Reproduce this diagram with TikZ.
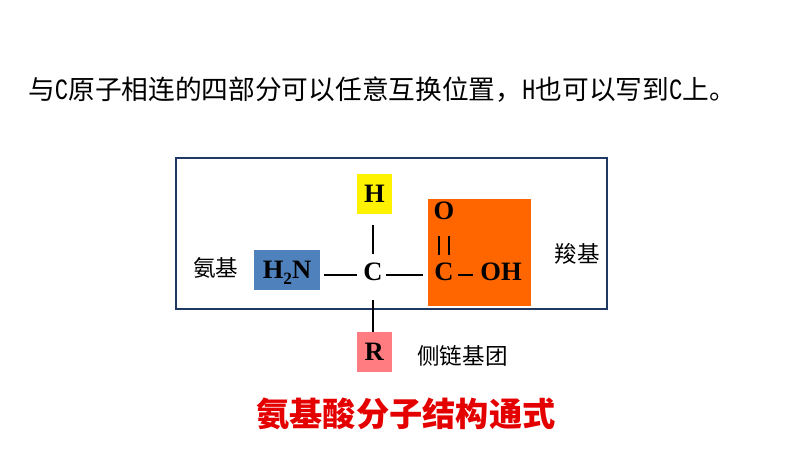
\documentclass[tikz,border=0pt]{standalone}
\usepackage{fontspec}
\setmainfont{Liberation Serif}
\newfontfamily\cjk{Noto Sans CJK SC}
\newfontfamily\latinmono[Scale=1.1,FakeStretch=0.76]{Liberation Mono}
\usetikzlibrary{positioning}
\usetikzlibrary{calc}
\definecolor{framenavy}{HTML}{1F3864}
\definecolor{aminoblue}{HTML}{4F81BD}
\definecolor{carboxylorange}{HTML}{FF6600}
\definecolor{sidepink}{HTML}{FF7C80}
\tikzstyle{atom} = [font=\fontsize{20}{20}\selectfont\bfseries, inner sep=0pt]
\tikzstyle{groupbox} = [atom, rectangle, text centered]
\tikzstyle{caption} = [font=\fontsize{17}{17}\selectfont\cjk, inner sep=0pt]
\tikzstyle{bond} = [line width=0.6mm, black]
\begin{document}
\begin{tikzpicture}[on grid]
		
		\useasboundingbox (0,0) rectangle (21.008,12.356);
		
		\node (C) [atom, minimum width=0.69cm, minimum height=0.9cm] at (9.869,5.080) {\raisebox{4.5pt}{C}};
		
		\node (frame) [rectangle, draw=framenavy, line width=0.7mm, minimum width=11.40cm, minimum height=3.995cm, above right = 1.098cm and 0.489cm of C]{};
		
		\node (H) [groupbox, fill=yellow, minimum width=0.926cm, minimum height=1.058cm, above right = 2.143cm and 0.04cm of C]{H};
		
		\node (amino) [groupbox, fill=aminoblue, minimum width=1.746cm, minimum height=1.058cm, above left = 0.132cm and 2.275cm of C]{\raisebox{-2pt}{H\smash{\raisebox{-4pt}{\fontsize{13}{13}\selectfont 2}}N}};
		
		\node (carboxyl) [rectangle, fill=carboxylorange, minimum width=2.725cm, minimum height=2.831cm, above right = 0.595cm and 2.818cm of C]{};
		
		\node (R) [groupbox, fill=sidepink, minimum width=0.926cm, minimum height=1.058cm, below right = 2.037cm and 0.03cm of C]{R};
		
		\node (C2) [atom, right = 1.879cm of C]{\raisebox{4.5pt}{C}};
		
		\node (O) [atom, above = 1.69cm of C2]{O};
		
		\node (OH) [atom, right = 1.508cm of C2]{\raisebox{4.5pt}{OH}};
		
		\draw [bond, shorten <=0.08cm, shorten >=0.106cm] (C) -- (amino.east |- C);
		
		\draw [bond, shorten >=0.13cm] (C) -- (carboxyl.west |- C);
		
		\draw [bond, shorten <=0.29cm, shorten >=0.106cm] (H.south -| C) -- (C);
		
		\draw [bond, shorten <=0.21cm] (C) -- (R.north -| C);
		
		\draw [bond, shorten <=0.42cm, shorten >=0.21cm] ($(O.south)+(-0.13cm,0)$) -- ($(C2.north)+(-0.13cm,0)$);
		
		\draw [bond, shorten <=0.42cm, shorten >=0.21cm] ($(O.south)+(0.13cm,0)$) -- ($(C2.north)+(0.13cm,0)$);
		
		\draw [bond, shorten <=0.1cm, shorten >=0.19cm] (C2.east) -- (OH.west);
		
		\node (aminolabel) [caption, above left = 0.05cm and 1.88cm of amino]{氨基};
		
		\node (carboxyllabel) [caption, below right = 0.04cm and 2.58cm of carboxyl]{羧基};
		
		\node (sidelabel) [caption, below right = 0.106cm and 2.34cm of R]{侧链基团};
		
		\node (title) [font=\fontsize{25}{25}\selectfont\cjk\bfseries, text=red!90!black, inner sep=0pt, below right = 4.776cm and 0.384cm of frame]{氨基酸分子结构通式};
		
		\node (note) [font=\fontsize{20.1}{20.1}\selectfont\cjk, inner sep=0pt, anchor=west] at (0.74,9.98) {与{\latinmono C}原子相连的四部分可以任意互换位置，{\latinmono H}也可以写到{\latinmono C}上。};
		
\end{tikzpicture}
\end{document}
